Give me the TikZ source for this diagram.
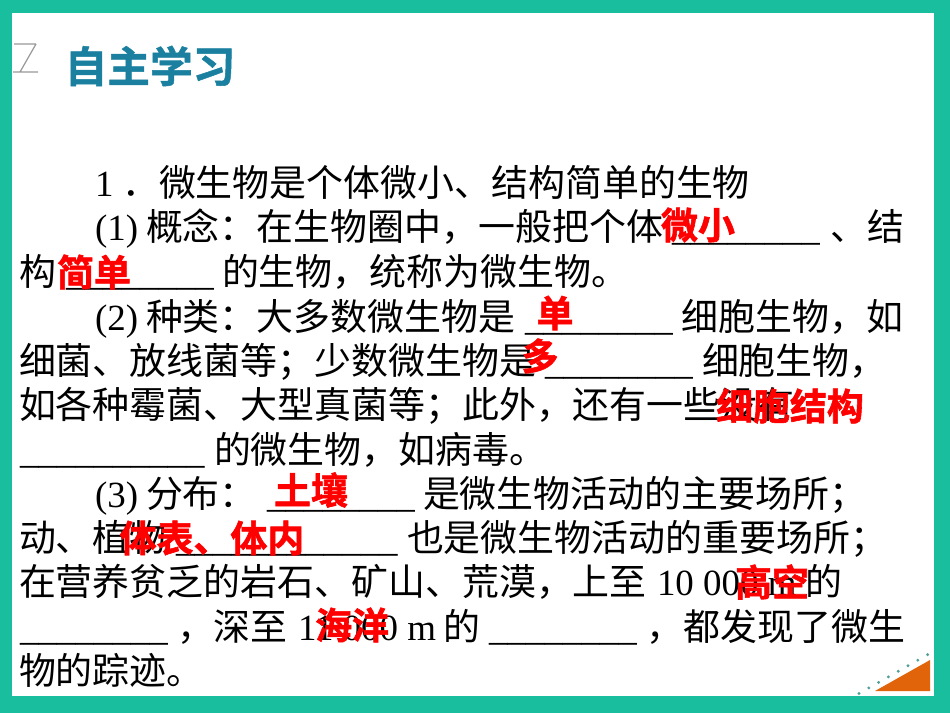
\documentclass[tikz,border=0pt]{standalone}
\usepackage{fontspec}
\setmainfont{Liberation Serif}
\newfontfamily\cjk{Noto Sans CJK SC}
\newfontfamily\cjkb[FakeBold=1.6]{Noto Sans CJK SC Bold}
\newfontfamily\cjkt[FakeBold=1.2]{Noto Sans CJK SC Bold}
\tikzset{
  x=0.75pt,y=-0.75pt,
  body/.style={anchor=base west,inner sep=0pt,outer sep=0pt,text=black,font=\fontsize{27.7pt}{30pt}\selectfont},
  cn/.style={body,font=\fontsize{27.7pt}{30pt}\selectfont\cjk},
  red/.style={anchor=center,inner sep=0pt,outer sep=0pt,text={rgb,255:red,255;green,0;blue,0},font=\fontsize{27.7pt}{30pt}\selectfont\cjkb},
}
\newcommand{\blank}[1]{\foreach \k in {1,...,#1}{\_}}
\begin{document}
\begin{tikzpicture}
\useasboundingbox (0,0) rectangle (950,713);
\fill[fill={rgb,255:red,24;green,190;blue,158}] (0,0) rectangle (950,713);
\fill[white] (12,13) rectangle (934,696);
% corner marks
\draw[gray!80,line width=0.9pt] (14,44)--(36,44) (36,44)--(20,72) (13,72)--(38,72);
\fill[fill={rgb,255:red,226;green,100;blue,10}] (875,691)--(930,660)--(930,691)--cycle;
\foreach \i in {0,...,7}{\fill[fill={rgb,255:red,80;green,160;blue,150}] (859+\i*9.8,693.5-\i*5.55) circle (1.6);}
% title
\node[anchor=center,inner sep=0pt,text={rgb,255:red,27;green,128;blue,160},font=\fontsize{32pt}{35pt}\selectfont\cjkt] (title) at (150,66) {自主学习};
% body
\node[body] (a1) at (95,197) {1};
\node[cn] (a2) at (122,197) {．};
\node[cn] (a3) at (159,197) {微生物是个体微小、结构简单的生物};
\node[body] (b1) at (95,241) {(1)};
\node[cn] (b2) at (146,241) {概念：在生物圈中，一般把个体};
\node[body] (b3) at (672,241) {\blank{8}};
\node[cn] (b4) at (830.5,241) {、结};
\node[cn] (c1) at (19,286) {构};
\node[body] (c2) at (66,286) {\blank{8}};
\node[cn] (c3) at (222,286) {的生物，统称为微生物。};
\node[body] (d1) at (95,330) {(2)};
\node[cn] (d2) at (146,330) {种类：大多数微生物是};
\node[body] (d3) at (525,330) {\blank{8}};
\node[cn] (d4) at (681.5,330) {细胞生物，如};
\node[cn] (e1) at (19,374) {细菌、放线菌等；少数微生物是};
\node[body] (e2) at (545,374) {\blank{8}};
\node[cn] (e3) at (702,374) {细胞生物，};
\node[cn] (f1) at (19,418) {如各种霉菌、大型真菌等；此外，还有一些没有};
\node[body] (g1) at (20,463) {\blank{10}};
\node[cn] (g2) at (214,463) {的微生物，如病毒。};
\node[body] (h1) at (95,507) {(3)};
\node[cn] (h2) at (146,507) {分布：};
\node[body] (h3) at (267,507) {\blank{8}};
\node[cn] (h4) at (423,507) {是微生物活动的主要场所；};
\node[cn] (i1) at (19,551) {动、植物};
\node[body] (i2) at (176,551) {\blank{12}};
\node[cn] (i3) at (407,551) {也是微生物活动的重要场所；};
\node[cn] (j1) at (19,595) {在营养贫乏的岩石、矿山、荒漠，上至};
\node[body] (j2) at (657,595) {10 000 m};
\node[cn] (j3) at (805,595) {的};
\node[body] (k1) at (20,640) {\blank{8}};
\node[cn] (k2) at (177,640) {，深至};
\node[body] (k3) at (298,640) {11 000 m};
\node[cn] (k4) at (443,640) {的};
\node[body] (k5) at (489,640) {\blank{8}};
\node[cn] (k6) at (646.5,640) {，都发现了微生};
\node[cn] (l1) at (19,684) {物的踪迹。};
% answers
\node[red] (r1) at (698,225) {微小};
\node[red] (r2) at (94,272) {简单};
\node[red] (r3) at (555,313) {单};
\node[red] (r4) at (540,356) {多};
\node[red] (r5) at (790,406) {细胞结构};
\node[red] (r6) at (311,490) {土壤};
\node[red] (r7) at (212,538) {体表、体内};
\node[red] (r8) at (772,582) {高空};
\node[red] (r9) at (352,625) {海洋};
\end{tikzpicture}
\end{document}
